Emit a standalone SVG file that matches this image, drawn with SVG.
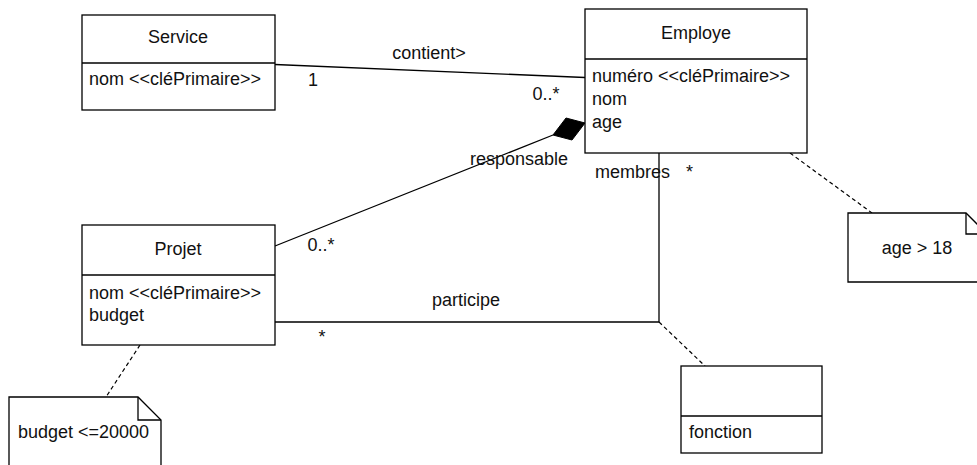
<svg xmlns="http://www.w3.org/2000/svg" width="977" height="465" viewBox="0 0 977 465">
<style>
.box{fill:#fff;stroke:#000;stroke-width:1.3}
.ln{fill:none;stroke:#000;stroke-width:1.3}
.dash{fill:none;stroke:#000;stroke-width:1.2;stroke-dasharray:4 3}
text{font-family:"Liberation Sans",Arial,sans-serif;font-size:18px;fill:#111}
.c{text-anchor:middle}
</style>
<rect width="977" height="465" fill="#fff"/>
<g id="connectors">
<line class="ln" x1="275" y1="64.5" x2="585" y2="77.5"/>
<line class="ln" x1="275" y1="246" x2="553" y2="135"/>
<polygon points="553,135 566,118 585,123 572,140" fill="#000" stroke="#000" stroke-width="1"/>
<polyline class="ln" points="275,322 659,322 659,153"/>
<line class="dash" x1="659" y1="322" x2="705" y2="366"/>
<line class="dash" x1="790" y1="153" x2="872" y2="213"/>
<line class="dash" x1="140" y1="345" x2="106" y2="397"/>
<text x="429" y="59" class="c">contient&gt;</text>
<text x="313" y="86" class="c">1</text>
<text x="546" y="100" class="c">0..*</text>
<text x="519" y="165" class="c">responsable</text>
<text x="321" y="251" class="c">0..*</text>
<text x="466" y="306" class="c">participe</text>
<text x="322" y="343" class="c">*</text>
<text x="595" y="178">membres</text>
<text x="686" y="178">*</text>
</g>
<g id="Service">
<rect class="box" x="82" y="15" width="193" height="95"/>
<line class="ln" x1="82" y1="63" x2="275" y2="63"/>
<text x="178" y="43" class="c">Service</text>
<text x="89" y="85">nom &lt;&lt;cléPrimaire&gt;&gt;</text>
</g>
<g id="Employe">
<rect class="box" x="585" y="9" width="222" height="144"/>
<line class="ln" x1="585" y1="59" x2="807" y2="59"/>
<text x="696" y="39" class="c">Employe</text>
<text x="592" y="82">numéro &lt;&lt;cléPrimaire&gt;&gt;</text>
<text x="592" y="105">nom</text>
<text x="592" y="128">age</text>
</g>
<g id="Projet">
<rect class="box" x="82" y="225" width="193" height="120"/>
<line class="ln" x1="82" y1="275" x2="275" y2="275"/>
<text x="178" y="255" class="c">Projet</text>
<text x="89" y="299">nom &lt;&lt;cléPrimaire&gt;&gt;</text>
<text x="89" y="321">budget</text>
</g>
<g id="Membres">
<rect class="box" x="681" y="366" width="141" height="87"/>
<line class="ln" x1="681" y1="416" x2="822" y2="416"/>
<text x="689" y="438">fonction</text>
</g>
<g id="NoteAge">
<path class="box" d="M848,213 H966 L988,235 V282 H848 Z"/>
<path class="ln" d="M966,213 V234 H988"/>
<text x="917" y="254" class="c">age &gt; 18</text>
</g>
<g id="NoteBudget">
<path class="box" d="M9,397 H138 L161,420 V470 H9 Z"/>
<path class="ln" d="M138,397 V420 H161"/>
<text x="18" y="438">budget &lt;=20000</text>
</g>
</svg>
